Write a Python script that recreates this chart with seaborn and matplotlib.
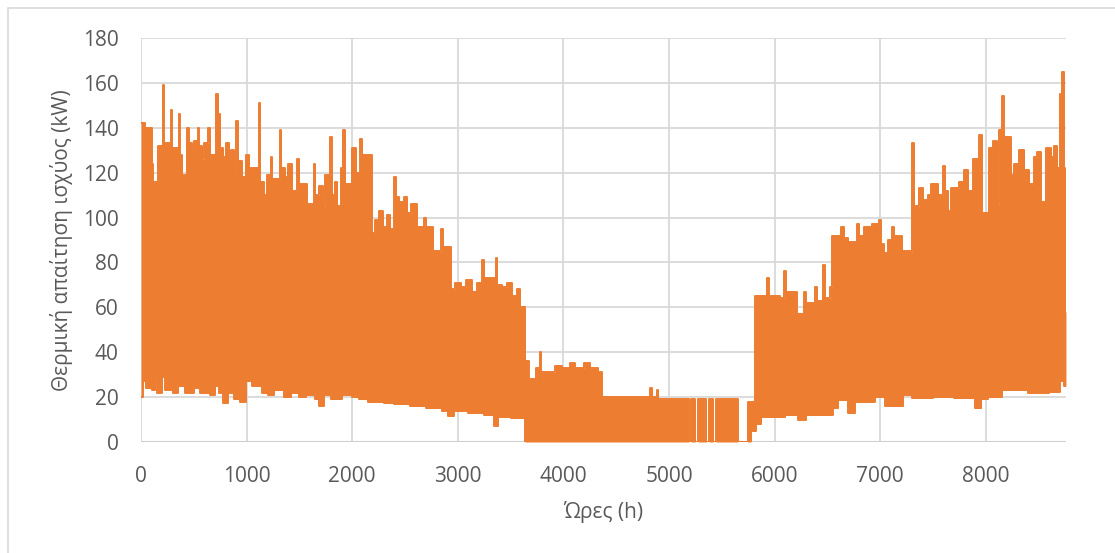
import numpy as np
import pandas as pd
import matplotlib
matplotlib.use("Agg")
import matplotlib.pyplot as plt
from matplotlib.patches import Rectangle
import seaborn as sns

# upper envelope of hourly heat demand (kW), step values starting at each hour
upper_hours = [0, 40, 100, 115, 165, 205, 218, 280, 292, 355, 370, 385, 432, 450, 480, 500,
               535, 550, 580, 600, 635, 650, 710, 728, 745, 780, 800, 830, 850, 880, 900, 915,
               960, 990,
               1020, 1035, 1115, 1130, 1160, 1190, 1230, 1245, 1315, 1330, 1360, 1390, 1430,
               1480, 1495, 1575, 1635, 1650, 1690, 1720, 1745, 1790, 1805, 1835, 1860, 1890,
               1915, 1930,
               2000, 2035, 2075, 2090, 2185, 2215, 2250, 2290, 2330, 2360, 2395, 2412, 2445,
               2490, 2520, 2560, 2610, 2680, 2700, 2765, 2845, 2860, 2935, 2975,
               3030, 3080, 3130, 3180, 3232, 3248, 3358, 3374, 3420, 3470, 3510, 3560, 3590,
               3637, 3670, 3740, 3775, 3790, 3925, 3990,
               4060, 4110, 4200, 4250, 4330, 4365, 4825, 4840, 4885, 4900,
               5186, 5210, 5250, 5275, 5355, 5380, 5420, 5445, 5650, 5745, 5815, 5925, 5945,
               6050, 6090, 6105, 6210, 6280, 6295, 6385, 6400, 6460, 6475, 6530, 6545, 6625,
               6660, 6700, 6780, 6800, 6845, 6925, 6990,
               7005, 7040, 7070, 7110, 7130, 7210, 7305, 7320, 7370, 7410, 7450, 7480, 7545,
               7595, 7610, 7640, 7670, 7750, 7790, 7835, 7880, 7935, 7965,
               8030, 8070, 8110, 8130, 8155, 8172, 8235, 8270, 8320, 8365, 8410, 8460, 8490,
               8520, 8570, 8615, 8650, 8680, 8702, 8722, 8738, 8752, 8760]
upper_kw = [142, 140, 124, 116, 132, 159, 133, 148, 131, 146, 128, 119, 140, 133, 127, 134,
            140, 132, 126, 133, 140, 128, 155, 146, 131, 127, 133, 124, 130, 120, 143, 125,
            118, 128,
            107, 122, 151, 116, 110, 119, 127, 117, 139, 122, 118, 124, 112,
            126, 115, 106, 124, 110, 114, 105, 119, 136, 110, 116, 105, 122,
            139, 115,
            131, 120, 135, 128, 93, 99, 103, 96, 101, 95, 118, 109, 107,
            109, 102, 106, 96, 100, 96, 85, 95, 87, 68, 71,
            69, 72, 67, 71, 81, 73, 82, 70, 69, 71, 65, 68, 60,
            36, 28, 33, 40, 31, 34, 33,
            35, 33, 35, 33, 31, 20, 24, 20, 23, 19,
            0, 19, 0, 19, 0, 19, 0, 19, 0, 18, 65, 73, 65,
            64, 76, 67, 57, 67, 62, 69, 63, 79, 64, 69, 92, 96,
            91, 89, 97, 92, 96, 97, 99,
            88, 84, 90, 96, 92, 85, 133, 105, 113, 108, 110, 115, 110,
            123, 112, 103, 113, 116, 121, 112, 126, 137, 102,
            131, 134, 106, 139, 154, 136, 119, 124, 130, 121, 115, 127, 129,
            107, 131, 127, 132, 122, 155, 165, 122, 58, 58]

# lower envelope (kW)
lower_hours = [0, 15, 50, 100, 130, 150, 200, 230, 300, 350, 420, 500, 560, 650, 700, 740,
               780, 820, 880, 940, 990, 1050, 1150, 1200, 1260, 1350, 1420, 1500, 1560, 1650,
               1690, 1730, 1800, 1900, 2000, 2060, 2150, 2300, 2400, 2550, 2700, 2850, 2910,
               2960, 3100, 3250, 3340, 3380, 3500, 3637, 5775, 5820, 5870, 5950, 6100, 6220,
               6300, 6550, 6600, 6700, 6760, 6950, 7050, 7220, 7300, 7500, 7700, 7900, 7960,
               8020, 8150, 8400, 8600, 8700, 8740, 8760]
lower_kw = [20, 27, 24, 23, 28, 22, 29, 23, 22, 25, 22, 24, 22, 21, 25, 22,
            17.5, 22, 19, 18, 27, 25, 22, 21, 23, 20, 22, 20, 21, 19,
            16, 21, 19, 21, 20, 19, 18, 17.5, 17, 16, 15, 14, 11.5,
            14, 13, 12, 7, 11, 10.5, 0, 5, 8, 11, 11, 12, 10,
            12, 15, 18.8, 13, 18, 20, 16, 21, 19.5, 20, 19.5, 15, 19,
            20, 23, 22, 22.5, 27, 25, 25]

assert len(upper_hours) == len(upper_kw) and len(lower_hours) == len(lower_kw)

x_ticks = list(range(0, 9000, 1000))
y_ticks = list(range(0, 200, 20))

orange = "#ED7D31"
grey_text = "#595959"
grid_col = "#d9d9d9"

# evaluate both step envelopes on the merged set of breakpoints
hours = np.union1d(upper_hours, lower_hours)
up = np.array(upper_kw)[np.searchsorted(upper_hours, hours, side="right") - 1]
lo = np.array(lower_kw)[np.searchsorted(lower_hours, hours, side="right") - 1]
lo = np.minimum(lo, up)
df = pd.DataFrame({"hour": hours, "upper": up, "lower": lo})

sns.set_style("white")
plt.rcParams["font.family"] = ["Open Sans", "DejaVu Sans"]

fig, ax = plt.subplots(figsize=(11.15, 5.53), dpi=100)
fig.subplots_adjust(left=0.1265, right=0.956, top=0.9313, bottom=0.2007)

ax.fill_between(df["hour"], df["lower"], df["upper"], step="post",
                color=orange, lw=0, zorder=3)
sns.lineplot(data=df, x="hour", y="upper", drawstyle="steps-post", color=orange,
             lw=1.4, estimator=None, ax=ax, zorder=3)
sns.lineplot(data=df, x="hour", y="lower", drawstyle="steps-post", color=orange,
             lw=1.4, estimator=None, ax=ax, zorder=3)

ax.set_xlim(0, 8760)
ax.set_ylim(0, 180)
ax.set_xticks(x_ticks)
ax.set_yticks(y_ticks)
ax.grid(True, color=grid_col, lw=1.3)
ax.set_axisbelow(True)
ax.axhline(0, color="#cfcfcf", lw=1.5, zorder=2)
for s in ax.spines.values():
    s.set_visible(False)

ax.tick_params(axis="both", length=0, labelsize=15, colors=grey_text)
ax.tick_params(axis="x", pad=17)
ax.tick_params(axis="y", pad=16)
ax.set_xlabel("Ώρες (h)", fontsize=15, color=grey_text, labelpad=10)
ax.set_ylabel("Θερμική απαίτηση ισχύος (kW)", fontsize=15, color=grey_text)
ax.yaxis.set_label_coords(-0.074, 0.5)

fig.patches.append(Rectangle((8 / 1115, -0.05), 1.1, 1 - 8 / 553 + 0.05,
                             transform=fig.transFigure, fill=False,
                             ec=grid_col, lw=1.2))

fig.savefig("out.png", dpi=100)
